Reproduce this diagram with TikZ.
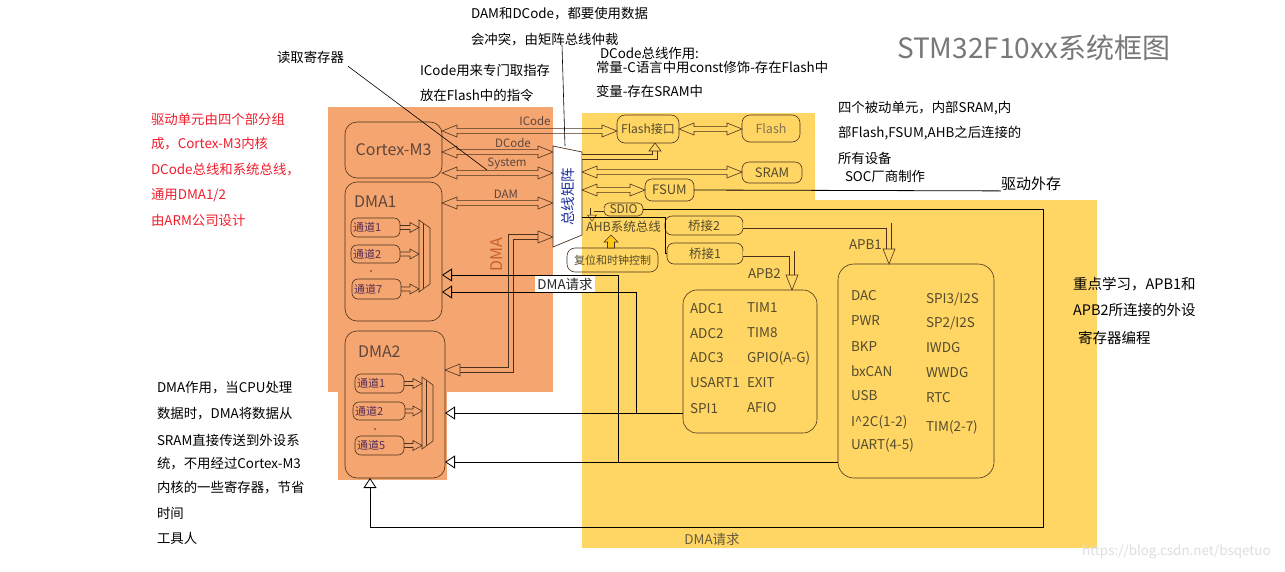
\documentclass[tikz,border=0pt]{standalone}
\usepackage{fontspec}
\setmainfont{Noto Sans CJK SC}
\usetikzlibrary{arrows.meta,calc}
\definecolor{bgO}{RGB}{244,165,112}
\definecolor{bgY}{RGB}{255,214,100}
\definecolor{boxc}{RGB}{75,50,30}
\definecolor{otext}{RGB}{95,70,60}
\definecolor{chtext}{RGB}{85,45,85}
\definecolor{ytext}{RGB}{85,75,45}
\definecolor{ylight}{RGB}{130,115,80}
\definecolor{redt}{RGB}{240,30,45}
\definecolor{titlec}{RGB}{120,120,120}
\definecolor{bluet}{RGB}{30,50,160}
\definecolor{dmao}{RGB}{200,95,45}
\definecolor{wmark}{RGB}{222,222,222}
\definecolor{gold}{RGB}{255,200,20}
\begin{document}
\begin{tikzpicture}[x=1pt,y=-1pt,
  t/.style={inner sep=0pt, outer sep=0pt, font=\fontsize{13.4}{15}\selectfont},
  box/.style={draw=boxc, line width=0.6pt, rounded corners=#1, inner sep=0pt, outer sep=0pt},
  box/.default=6pt,
  ln/.style={draw=black, line width=0.8pt},
  req/.style={draw=black, line width=0.8pt, -{Triangle[open, length=10pt, width=13pt]}},
  hollowO/.style={draw=boxc, line width=0.6pt, double=bgO, double distance=4.8pt},
  hollowY/.style={draw=boxc, line width=0.6pt, double=bgY, double distance=4.8pt},
  hollowYs/.style={draw=boxc, line width=0.5pt, double=bgY, double distance=3pt},
  muxs/.style={draw=boxc, line width=0.6pt},
  dharr/.style={draw=boxc, line width=0.6pt, to path={let \p1=(\tikztostart), \p2=(\tikztotarget) in
     -- (\x1+15pt,\y1-6pt) -- (\x1+15pt,\y1-2.4pt) -- (\x2-15pt,\y1-2.4pt) -- (\x2-15pt,\y1-6pt) -- (\x2,\y1)
     -- (\x2-15pt,\y1+6pt) -- (\x2-15pt,\y1+2.4pt) -- (\x1+15pt,\y1+2.4pt) -- (\x1+15pt,\y1+6pt) -- cycle}},
  charr/.style={draw=boxc, line width=0.6pt, to path={let \p1=(\tikztostart), \p2=(\tikztotarget) in
     (\x1,\y1+2pt) -- (\x2-9pt,\y1+2pt) -- (\x2-9pt,\y1+5pt) -- (\x2,\y1) -- (\x2-9pt,\y1-5pt) -- (\x2-9pt,\y1-2pt) -- (\x1,\y1-2pt)}},
  pics/hd/.style={code={\draw[draw=boxc, line width=0.6pt, fill=#1] (0,0) -- (-15pt,6pt) -- (-15pt,-6pt) -- cycle;}},
  pics/hdS/.style={code={\draw[draw=boxc, line width=0.6pt, fill=#1] (0,0) -- (-8pt,6pt) -- (-8pt,-6pt) -- cycle;}},
  pics/hdT/.style={code={\draw[draw=boxc, line width=0.5pt, fill=#1] (0,0) -- (-6pt,4.5pt) -- (-6pt,-4.5pt) -- cycle;}},
]
\useasboundingbox (0,0) rectangle (1285,571);
\fill[white] (0,0) rectangle (1285,571);
% background areas
\fill[bgO] (328,107) rectangle (553,392);
\fill[bgO] (338,392) rectangle (447,480);
\fill[bgY] (582,113) rectangle (815,200);
\fill[bgY] (582,200) rectangle (1097,548);

% title
\node[t, font=\fontsize{28}{32}\selectfont, text=titlec, anchor=west] (title) at (897,48) {STM32F10xx系统框图};

% top notes
\node[t, anchor=west] (n1) at (471,14) {DAM和DCode，都要使用数据};
\node[t, anchor=west] (n2) at (471,40) {会冲突，由矩阵总线仲裁};
\node[t, anchor=west] (n3) at (277,57) {读取寄存器};
\node[t, anchor=west] (n4) at (420,70) {ICode用来专门取指存};
\node[t, anchor=west] (n5) at (420,95) {放在Flash中的指令};
\node[t, anchor=west] (n6) at (600,53) {DCode总线作用:};
\node[t, anchor=west] (n7) at (596,67) {常量-C语言中用const修饰-存在Flash中};
\node[t, anchor=west] (n8) at (596,91) {变量-存在SRAM中};

% red notes
\node[t, text=redt, anchor=west] (r1) at (151,119) {驱动单元由四个部分组};
\node[t, text=redt, anchor=west] (r2) at (151,144) {成，Cortex-M3内核};
\node[t, text=redt, anchor=west] (r3) at (151,170) {DCode总线和系统总线，};
\node[t, text=redt, anchor=west] (r4) at (151,195) {通用DMA1/2};
\node[t, text=redt, anchor=west] (r5) at (151,220) {由ARM公司设计};

% bottom-left notes
\node[t, anchor=west] (l1) at (157,388) {DMA作用，当CPU处理};
\node[t, anchor=west] (l2) at (157,414) {数据时，DMA将数据从};
\node[t, anchor=west] (l3) at (157,440) {SRAM直接传送到外设系};
\node[t, anchor=west] (l4) at (157,464) {统，不用经过Cortex-M3};
\node[t, anchor=west] (l5) at (157,488) {内核的一些寄存器，节省};
\node[t, anchor=west] (l6) at (157,513) {时间};
\node[t, anchor=west] (l7) at (157,538) {工具人};

% right notes
\node[t, anchor=west] (q1) at (838,108) {四个被动单元，内部SRAM,内};
\node[t, anchor=west] (q2) at (838,133) {部Flash,FSUM,AHB之后连接的};
\node[t, anchor=west] (q3) at (838,158) {所有设备};
\node[t, anchor=west] (q4) at (845,176) {SOC厂商制作};
\node[t, anchor=west, font=\fontsize{15}{17}\selectfont] (qd) at (1001,184) {驱动外存};
\node[t, anchor=west, font=\fontsize{14.5}{17}\selectfont] (k1) at (1073,284) {重点学习，APB1和};
\node[t, anchor=west, font=\fontsize{14.5}{17}\selectfont] (k2) at (1073,310) {APB2所连接的外设};
\node[t, anchor=west, font=\fontsize{14.5}{17}\selectfont] (k3) at (1078,338) {寄存器编程};

% watermark
\node[t, anchor=west, text=wmark] (wm) at (1082,552) {https://blog.csdn.net/bsqetuo};

% ---------- driving units ----------
\node[box=12pt, minimum width=97pt, minimum height=56pt, font=\fontsize{16}{18}\selectfont, text=otext] (cm) at (393.5,150) {Cortex-M3};
\node[box=12pt, minimum width=97pt, minimum height=139pt] (dma1) at (393.5,251.5) {};
\node[t, anchor=west, font=\fontsize{16}{18}\selectfont, text=otext] (dma1t) at (354,202) {DMA1};
\node[box=6pt, minimum width=49pt, minimum height=19pt] (d1c1) at (375.5,227.5) {};
\node[box=6pt, minimum width=49pt, minimum height=18pt] (d1c2) at (375.5,254) {};
\node[box=6pt, minimum width=49pt, minimum height=20pt] (d1c7) at (376.5,289) {};
\node[t, anchor=west, font=\fontsize{11}{13}\selectfont, text=chtext] at ($(d1c1.west)+(2,0)$) {通道1};
\node[t, anchor=west, font=\fontsize{11}{13}\selectfont, text=chtext] at ($(d1c2.west)+(2,0)$) {通道2};
\node[t, anchor=west, font=\fontsize{11}{13}\selectfont, text=chtext] at ($(d1c7.west)+(2,0)$) {通道7};
\fill[boxc] (371,271) circle (0.8);
\draw[muxs] (419,220) -- (430,228) -- (430,284) -- (419,292) -- cycle;
\draw[muxs] (423,223) -- (423,289);
\coordinate (m1) at (419,256);
\draw[charr] (d1c1.east) to (m1 |- d1c1.east);
\draw[charr] (d1c2.east) to (m1 |- d1c2.east);
\draw[charr] (d1c7.east) to (m1 |- d1c7.east);

\node[box=12pt, minimum width=100pt, minimum height=147pt] (dma2) at (395,404.5) {};
\node[t, anchor=west, font=\fontsize{16}{18}\selectfont, text=otext] (dma2t) at (358,352) {DMA2};
\node[box=6pt, minimum width=49pt, minimum height=19pt] (d2c1) at (379.5,383.5) {};
\node[box=6pt, minimum width=52pt, minimum height=18pt] (d2c2) at (379,411) {};
\node[box=6pt, minimum width=49pt, minimum height=19pt] (d2c5) at (379.5,445.5) {};
\node[t, anchor=west, font=\fontsize{11}{13}\selectfont, text=chtext] at ($(d2c1.west)+(2,0)$) {通道1};
\node[t, anchor=west, font=\fontsize{11}{13}\selectfont, text=chtext] at ($(d2c2.west)+(2,0)$) {通道2};
\node[t, anchor=west, font=\fontsize{11}{13}\selectfont, text=chtext] at ($(d2c5.west)+(2,0)$) {通道5};
\fill[boxc] (375,429) circle (0.8);
\draw[muxs] (422,377) -- (433,385) -- (433,441) -- (422,449) -- cycle;
\draw[muxs] (426,380) -- (426,446);
\coordinate (m2) at (422,413);
\draw[charr] (d2c1.east) to (m2 |- d2c1.east);
\draw[charr] (d2c2.east) to (m2 |- d2c2.east);
\draw[charr] (d2c5.east) to (m2 |- d2c5.east);

% ---------- bus matrix ----------
\node[minimum width=29pt, minimum height=101pt, inner sep=0pt, outer sep=0pt] (mx) at (567.5,196.5) {};

% ---------- passive units ----------
\node[box=8pt, minimum width=62pt, minimum height=28pt, font=\fontsize{12}{14}\selectfont, text=ytext] (fi) at (648,129) {Flash接口};
\node[box=8pt, minimum width=58pt, minimum height=27pt, font=\fontsize{12.5}{14}\selectfont, text=ylight] (fl) at (771,128.5) {Flash};
\node[box=7pt, minimum width=60pt, minimum height=21pt, font=\fontsize{13}{15}\selectfont, text=ytext] (sram) at (772,172.5) {SRAM};
\node[box=7pt, minimum width=49pt, minimum height=22pt, font=\fontsize{13}{15}\selectfont, text=ytext] (fsum) at (669.5,190) {FSUM};
\node[box=5pt, minimum width=39pt, minimum height=13pt, font=\fontsize{12}{14}\selectfont, text=ytext] (sd) at (623.5,209.5) {SDIO};
\node[box=7pt, minimum width=78pt, minimum height=19pt, font=\fontsize{12.5}{14}\selectfont, text=ytext] (b2) at (704,225.5) {桥接2};
\node[box=7pt, minimum width=76pt, minimum height=21pt, font=\fontsize{12.5}{14}\selectfont, text=ytext] (b1) at (705,253.5) {桥接1};
\node[box=8pt, minimum width=91pt, minimum height=24pt, font=\fontsize{11}{13}\selectfont, text=ytext] (rc) at (612.5,260) {复位和时钟控制};
\node[box=14pt, minimum width=134pt, minimum height=143pt] (p2) at (750,361.5) {};
\node[box=16pt, minimum width=156pt, minimum height=214pt] (p1) at (916,371) {};

% bus arrows from the drivers
\draw[dharr] (cm.east |- 0,131) to (fi.west |- 0,131);
\draw[dharr] (cm.east |- 0,152) to (mx.west |- 0,152);
\draw[dharr] (cm.east |- 0,173) to (mx.west |- 0,173);
\draw[dharr] (dma1.east |- 0,203) to (mx.west |- 0,203);
\node[t, font=\fontsize{11.5}{13}\selectfont, text=otext] at (535,121) {ICode};
\node[t, font=\fontsize{11.5}{13}\selectfont, text=otext] at (513,143) {DCode};
\node[t, font=\fontsize{11.5}{13}\selectfont, text=otext] at (507,164) {System};
\node[t, font=\fontsize{11.5}{13}\selectfont, text=otext] at (506,194) {DAM};

% DMA bus
\draw[hollowO, shorten <=15pt, shorten >=15pt] (dma2.east |- 0,370) -- (511,370) |- (mx.west |- 0,237);
\pic[rotate=180] at (dma2.east |- 0,370) {hd=bgO};
\pic at (mx.west |- 0,237) {hd=bgO};
\node[t, rotate=90, font=\fontsize{16}{18}\selectfont, text=dmao] at (497,255) {DMA};

% matrix shape
\draw[draw=boxc, fill=white, line width=0.7pt] (mx.north west) -- (mx.east |- 0,152) -- (mx.east |- 0,235) -- (mx.south west) -- cycle;
\node[t, rotate=90, text=bluet, font=\fontsize{14.5}{16}\selectfont] at (mx.center) {总线矩阵};

% passive side arrows
\draw[dharr] (fi.east) to (fl.west);
\draw[dharr] (mx.east |- 0,172) to (sram.west |- 0,172);
\draw[dharr] (mx.east |- 0,190) to (fsum.west);
\coordinate (fitip) at (fi.south -| 655,0);
\draw[hollowY, shorten >=8pt] (mx.east |- 0,157) -| (fitip);
\pic[rotate=90] at (fitip) {hdS=bgY};
\coordinate (sdtip) at (592,221);
\draw[hollowYs, shorten >=6pt] (sd.west) -| (sdtip);
\pic[rotate=-90] at (sdtip) {hdT=bgY};
\draw[ln] (fsum.east) -- (qd.south west);

% AHB
\draw[ln, line width=0.7pt] (mx.east |- 0,217) -- (b2.west |- 0,217) -- (b2.west |- b1.west) -- (b1.west);
\node[t, anchor=west, text=ytext, font=\fontsize{12.5}{14}\selectfont] at (586,227) {AHB系统总线};
\draw[draw=boxc, fill=gold, line width=0.6pt] (rc.north -| 611,0) ++(-3.5,0) -- ++(0,-6) -- ++(-3.5,0) -- ++(7,-7) -- ++(7,7) -- ++(-3.5,0) -- ++(0,6) -- cycle;

% APB bridges
\coordinate (a1tip) at (p1.north -| 889,0);
\draw[hollowY, shorten >=15pt] (b2.east) -| (a1tip);
\pic[rotate=-90] at (a1tip) {hd=bgY};
\coordinate (a2tip) at (p2.north -| 792,0);
\draw[hollowY, shorten >=15pt] (b1.east) -| (a2tip);
\pic[rotate=-90] at (a2tip) {hd=bgY};
\node[t, anchor=west, text=ytext] at (849,245) {APB1};
\node[t, anchor=west, text=ytext] at (748,274) {APB2};

% APB2 peripherals
\begin{scope}[every node/.style={t, anchor=west, text=ytext, font=\fontsize{13.5}{15}\selectfont}]
\node at (690,309) {ADC1};
\node at (690,334) {ADC2};
\node at (690,358) {ADC3};
\node at (690,383) {USART1};
\node at (690,409) {SPI1};
\node at (747,308) {TIM1};
\node at (747,333) {TIM8};
\node at (747,358) {GPIO(A-G)};
\node at (747,383) {EXIT};
\node at (747,408) {AFIO};
% APB1 peripherals
\node at (851,296) {DAC};
\node at (851,321) {PWR};
\node at (851,347) {BKP};
\node at (851,371) {bxCAN};
\node at (851,396) {USB};
\node at (851,422) {I\textasciicircum2C(1-2)};
\node at (851,445) {UART(4-5)};
\node at (926,299) {SPI3/I2S};
\node at (926,323) {SP2/I2S};
\node at (926,348) {IWDG};
\node at (926,373) {WWDG};
\node at (926,398) {RTC};
\node at (926,427) {TIM(2-7)};
\end{scope}

% DMA request lines
\coordinate (j1) at (618,462);
\coordinate (j2) at (636,413);
\draw[req] (p2.west |- 0,413) -- (dma2.east |- 0,413);
\draw[req] (p1.west |- 0,462) -- (dma2.east |- 0,462);
\draw[req] (j1) |- (dma1.east |- 0,275);
\draw[req] (j2) |- (dma1.east |- 0,292);
\draw[req] (sd.east) -- (1043,209.5) |- (370,527) -- (dma2.south -| 370,0);
\node[t, fill=white, inner sep=2pt, text=black!85] at (565,284) {DMA请求};
\node[t, text=ylight!80!black] at (712,539) {DMA请求};

% pointer lines
\draw[ln, line width=0.6pt] ($(n3.south east)+(4,3)$) -- (487,170);
\draw[ln, line width=0.6pt] (562,45) -- (mx.north -| 565,0);
\end{tikzpicture}
\end{document}
